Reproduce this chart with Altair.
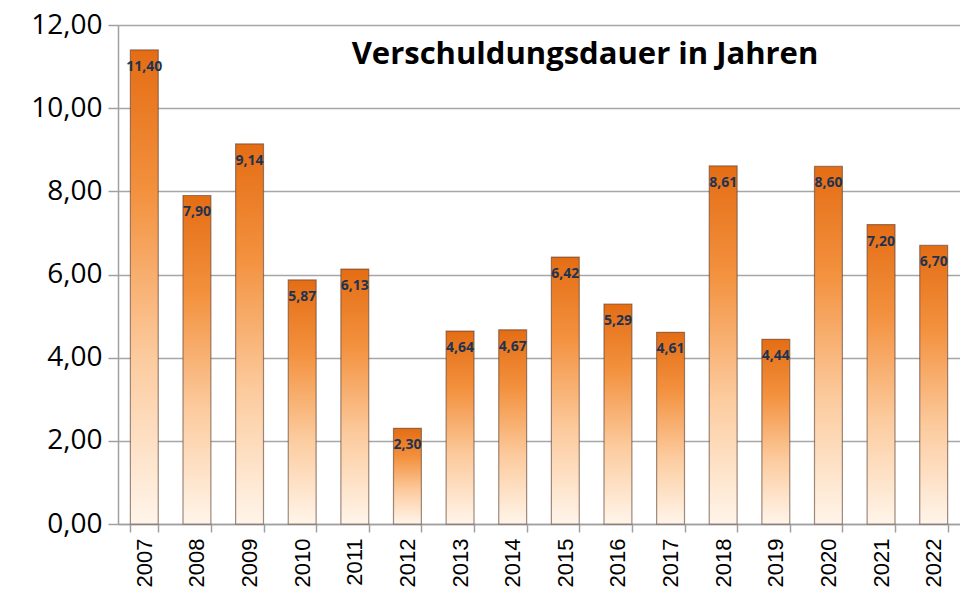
import altair as alt
import pandas as pd

years = ["2007", "2008", "2009", "2010", "2011", "2012", "2013", "2014",
         "2015", "2016", "2017", "2018", "2019", "2020", "2021", "2022"]
values = [11.40, 7.90, 9.14, 5.87, 6.13, 2.30, 4.64, 4.67,
          6.42, 5.29, 4.61, 8.61, 4.44, 8.60, 7.20, 6.70]
title_text = "Verschuldungsdauer in Jahren"
y_ticks = [0, 2, 4, 6, 8, 10, 12]

df = pd.DataFrame({"Jahr": years, "Wert": values})

grad = alt.Gradient(
    gradient="linear", x1=0, x2=0, y1=0, y2=1,
    stops=[
        alt.GradientStop(color="#E46D14", offset=0),
        alt.GradientStop(color="#F3913E", offset=0.3),
        alt.GradientStop(color="#FCCB9E", offset=0.65),
        alt.GradientStop(color="#FFF5EA", offset=1),
    ],
)

x_enc = alt.X(
    "Jahr:N", sort=years, title=None,
    scale=alt.Scale(paddingInner=0.47, paddingOuter=0.235),
    axis=alt.Axis(labelAngle=-90, labelFont="Liberation Sans", labelFontSize=22,
                  labelColor="#000000", labelPadding=6, tickBand="extent",
                  tickSize=8, tickColor="#A0A0A0", tickWidth=1.5,
                  domainColor="#A0A0A0", domainWidth=1.5, grid=False,
                  labelAlign="right", labelBaseline="middle"),
)
y_enc = alt.Y(
    "Wert:Q", title=None,
    scale=alt.Scale(domain=[0, 12], nice=False),
    axis=alt.Axis(values=y_ticks, labelExpr="replace(format(datum.value, '.2f'), '.', ',')",
                  labelFont="Open Sans", labelFontSize=28, labelColor="#000000",
                  labelPadding=6, tickSize=10, tickColor="#A0A0A0", tickWidth=1.5,
                  domainColor="#A0A0A0", domainWidth=1.5, grid=True,
                  gridColor="#A6A6A6", gridWidth=1.5),
)

bars = alt.Chart(df).mark_bar(
    color=grad, stroke="#5E4030", strokeWidth=1.2, strokeOpacity=0.6
).encode(x=x_enc, y=y_enc)

labels = alt.Chart(df).transform_calculate(
    lab="replace(format(datum.Wert, '.2f'), '.', ',')"
).mark_text(
    baseline="middle", align="center", dy=17, font="Open Sans",
    fontSize=14, fontWeight="bold", color="#1F3350"
).encode(x=alt.X("Jahr:N", sort=years), y="Wert:Q", text="lab:N")

title = alt.Chart(pd.DataFrame({"t": [title_text]})).mark_text(
    font="Open Sans", fontSize=31, fontWeight="bold", color="#000000",
    align="center", baseline="middle"
).encode(x=alt.value(467), y=alt.value(30), text="t:N")

chart = alt.layer(bars, labels, title).properties(
    width=842, height=499,
    autosize=alt.AutoSizeParams(type="none"),
    padding={"left": 110, "top": 17, "right": 0, "bottom": 72},
).configure_view(stroke=None).configure(background="white")

chart.save("out.html", embed_options={"renderer": "svg", "actions": False})
